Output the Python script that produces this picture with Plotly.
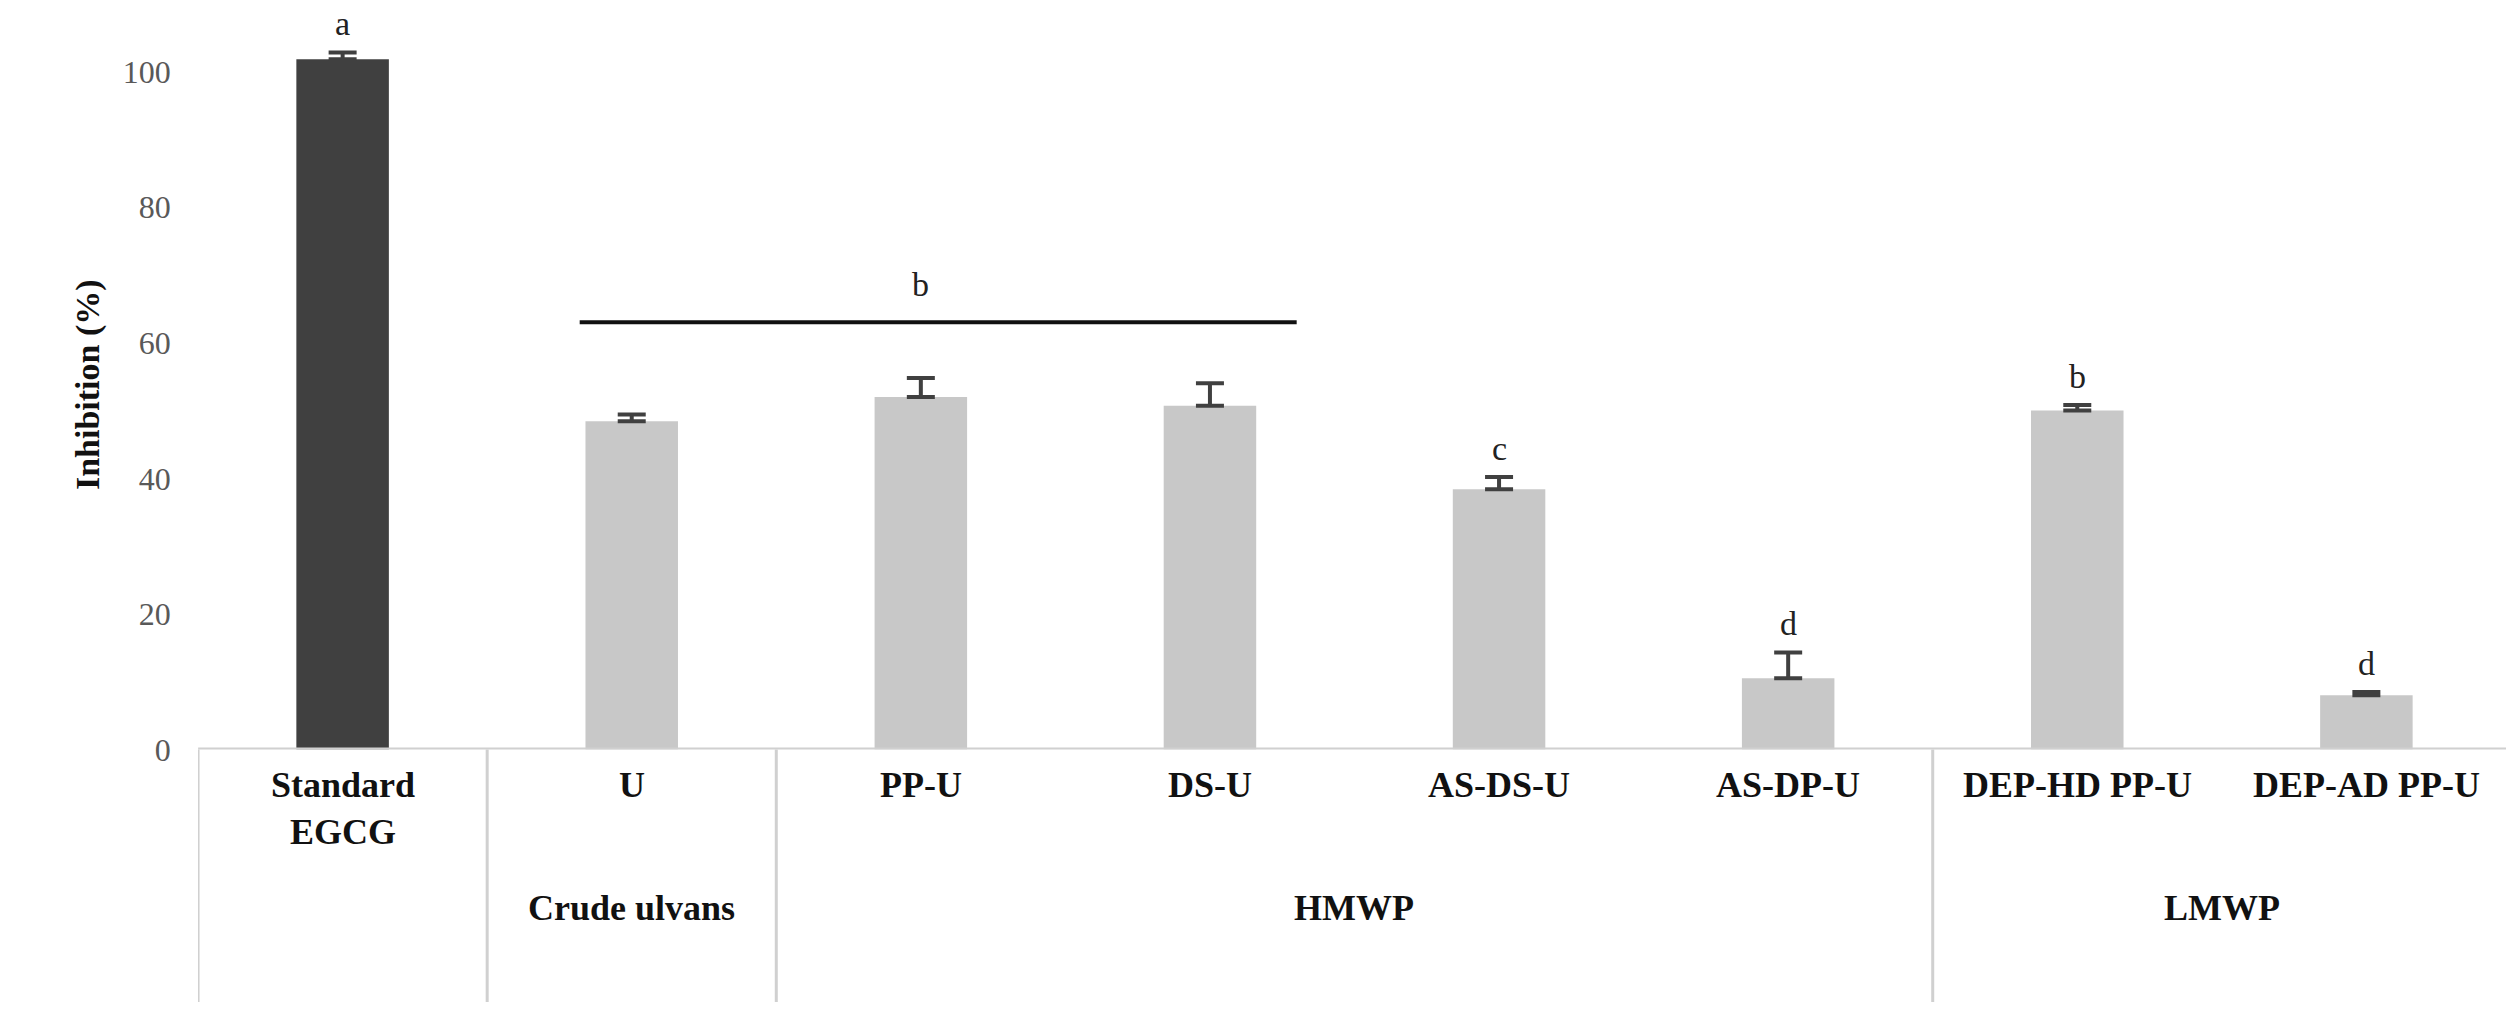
import plotly.graph_objects as go

# Data
samples = ["Standard<br>EGCG", "U", "PP-U", "DS-U", "AS-DS-U", "AS-DP-U", "DEP-HD PP-U", "DEP-AD PP-U"]
inhibition = [101.8, 48.4, 52.0, 50.7, 38.4, 10.5, 50.0, 8.0]
error = [1.0, 1.0, 2.8, 3.3, 1.8, 3.8, 0.8, 0.5]
letters = ["a", "", "", "", "c", "d", "b", "d"]
groups = ["Crude ulvans", "HMWP", "LMWP"]
group_centers = [1, 3.5, 6.5]
group_edges = [-0.5, 0.5, 1.5, 5.5, 7.5]

bar_colors = ["#404040"] + ["#c8c8c8"] * 7
serif = "Liberation Serif, DejaVu Serif, serif"
x_idx = list(range(len(samples)))

fig = go.Figure()

fig.add_trace(go.Bar(
    x=x_idx,
    y=inhibition,
    width=0.32,
    marker=dict(color=bar_colors, line=dict(width=0)),
    error_y=dict(type="data", array=error, arrayminus=[0] * len(error), symmetric=False,
                 color="#404040", thickness=4, width=14),
    showlegend=False,
))

# significance letters
for i, (v, e, l) in enumerate(zip(inhibition, error, letters)):
    if l:
        fig.add_annotation(x=i, y=v + e + 1.2, text=l, showarrow=False, yanchor="bottom",
                           font=dict(family=serif, size=34, color="#222"))

# shared "b" bracket for U, PP-U, DS-U
fig.add_shape(type="line", x0=0.82, x1=3.3, y0=63, y1=63, xref="x", yref="y",
              line=dict(color="#111", width=4))
fig.add_annotation(x=2, y=65.5, text="b", showarrow=False, yanchor="bottom",
                   font=dict(family=serif, size=34, color="#222"))

# table below the axis
for xe in group_edges:
    fig.add_shape(type="line", x0=xe, x1=xe, y0=0, y1=0.254, xref="x", yref="paper",
                  line=dict(color="#d0d0d0", width=3))
fig.add_shape(type="line", x0=-0.5, x1=7.5, y0=0, y1=0, xref="x", yref="y",
              line=dict(color="#d0d0d0", width=4))

for i, s in enumerate(samples):
    fig.add_annotation(x=i, y=0.24, xref="x", yref="paper", text="<b>%s</b>" % s,
                       showarrow=False, yanchor="top",
                       font=dict(family=serif, size=36, color="#111"))
for g, c in zip(groups, group_centers):
    fig.add_annotation(x=c, y=0.095, xref="x", yref="paper", text="<b>%s</b>" % g,
                       showarrow=False, yanchor="middle",
                       font=dict(family=serif, size=36, color="#111"))

fig.update_layout(
    width=2514, height=1012,
    margin=dict(l=0, r=0, t=0, b=0),
    plot_bgcolor="white", paper_bgcolor="white",
    xaxis=dict(domain=[0.0756, 0.9956], range=[-0.5, 7.5], showticklabels=False,
               showgrid=False, zeroline=False, showline=False, ticks=""),
    yaxis=dict(domain=[0.254, 0.988], range=[0, 107.6], tickvals=[0, 20, 40, 60, 80, 100],
               showgrid=False, zeroline=False, showline=False, ticks="outside",
               ticklen=20, tickcolor="rgba(0,0,0,0)",
               tickfont=dict(family=serif, size=32, color="#595959"),
               title=dict(text="<b>Inhibition (%)</b>", standoff=12,
                          font=dict(family=serif, size=34, color="#111"))),
)

fig.write_html("out.html")
